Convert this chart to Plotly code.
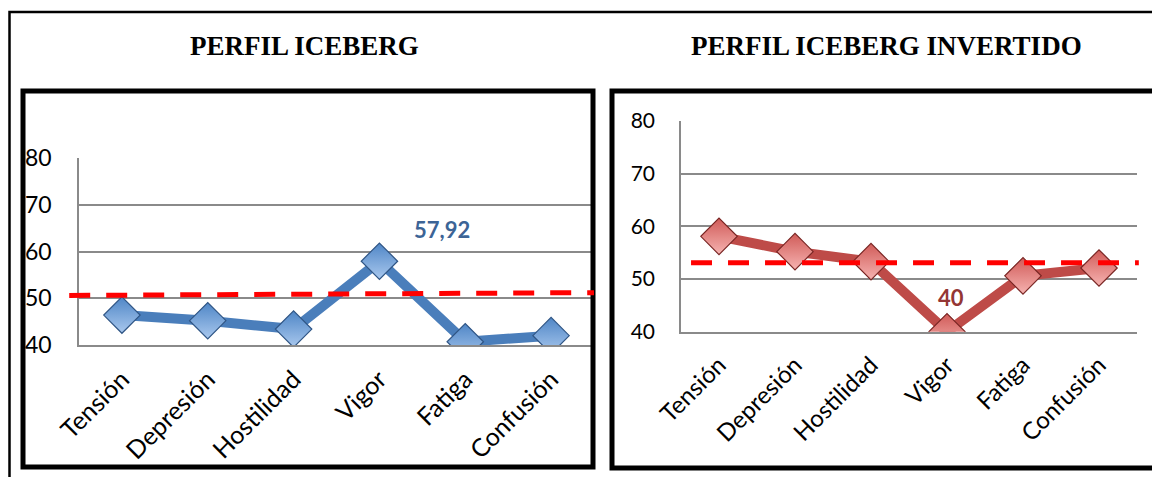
import plotly.graph_objects as go

categorias = ["Tensión", "Depresión", "Hostilidad", "Vigor", "Fatiga", "Confusión"]
iceberg = [46.4, 45.2, 43.4, 57.92, 40.7, 42.0]
invertido = [58.1, 55.2, 53.3, 40.0, 50.6, 52.1]
ref_iceberg = [50.6, 51.2]   # linea de referencia (inicio, fin)
ref_invertido = [53.1, 53.1]
y_ticks = [40, 50, 60, 70, 80]

# la pagina deja 8px de margen en el body, asi que la figura se desplaza
OFF = 8
W, H = 1160 - OFF, 477 - OFF


def px(x):
    return (x - OFF) / W


def py(y):
    return 1 - (y - OFF) / H


fig = go.Figure()

# Perfil iceberg (azul)
fig.add_trace(go.Scatter(
    x=categorias, y=iceberg, mode="lines+markers", xaxis="x", yaxis="y",
    line=dict(color="#4A7EBB", width=10),
    marker=dict(symbol="diamond", size=28, color="#4F86C6",
                gradient=dict(type="vertical", color="#A9C8EE"),
                line=dict(color="#2F5585", width=1.2)),
    showlegend=False, hoverinfo="skip"))

# Perfil iceberg invertido (rojo)
fig.add_trace(go.Scatter(
    x=categorias, y=invertido, mode="lines+markers", xaxis="x2", yaxis="y2",
    line=dict(color="#BE4B48", width=10),
    marker=dict(symbol="diamond", size=28, color="#D05B58",
                gradient=dict(type="vertical", color="#F6B3B1"),
                line=dict(color="#7A2624", width=1.2)),
    showlegend=False, hoverinfo="skip"))

grid_col = "#8A8A8A"
font_fam = "Lato, Calibri, sans-serif"


def x_axis(domain, anchor, size):
    return dict(domain=domain, anchor=anchor, type="category", categoryorder="array",
                categoryarray=categorias, range=[-0.5, 5.5], tickangle=-45,
                showgrid=False, showline=True, linecolor=grid_col, linewidth=1.5,
                ticks="", tickfont=dict(family=font_fam, size=size, color="black"),
                ticklabelstandoff=8, fixedrange=True, automargin=False)


def y_axis(domain, anchor, size, standoff):
    return dict(domain=domain, anchor=anchor, range=[40, 80], tickvals=y_ticks,
                showgrid=True, gridcolor=grid_col, gridwidth=1.5,
                showline=True, linecolor=grid_col, linewidth=1.5,
                ticks="", tickfont=dict(family=font_fam, size=size, color="black"),
                ticklabelstandoff=standoff, zeroline=False,
                fixedrange=True, automargin=False)


shapes = []
# marco exterior
shapes.append(dict(type="rect", xref="paper", yref="paper",
                   x0=px(9.5), x1=1.05, y0=-0.05, y1=py(12),
                   line=dict(color="black", width=2.5)))
# marcos de los graficos
shapes.append(dict(type="rect", xref="paper", yref="paper",
                   x0=px(23), x1=px(593), y0=py(467), y1=py(91),
                   line=dict(color="black", width=5)))
shapes.append(dict(type="rect", xref="paper", yref="paper",
                   x0=px(612), x1=1.05, y0=py(468), y1=py(91),
                   line=dict(color="black", width=5)))
# lineas de referencia discontinuas
shapes.append(dict(type="line", xref="x domain", yref="y",
                   x0=-0.019, x1=1.0, y0=ref_iceberg[0], y1=ref_iceberg[1],
                   line=dict(color="#FF0000", width=5, dash="21px,16px")))
shapes.append(dict(type="line", xref="x2 domain", yref="y2",
                   x0=0.022, x1=1.004, y0=ref_invertido[0], y1=ref_invertido[1],
                   line=dict(color="#FF0000", width=5, dash="21px,16px")))

title_font = dict(family="Liberation Serif, Times New Roman, serif", size=27, color="black")
annotations = [
    dict(text="<b>PERFIL ICEBERG</b>", xref="paper", yref="paper", x=px(304), y=py(46),
         xanchor="center", yanchor="middle", showarrow=False, font=title_font),
    dict(text="<b>PERFIL ICEBERG INVERTIDO</b>", xref="paper", yref="paper", x=px(886), y=py(46),
         xanchor="center", yanchor="middle", showarrow=False, font=title_font),
    dict(text="<b>57,92</b>", xref="x", yref="y", x=categorias[3], y=iceberg[3],
         xshift=63, yshift=32, showarrow=False,
         font=dict(family=font_fam, size=22, color="#3C6496")),
    dict(text="<b>40</b>", xref="x2", yref="y2", x=categorias[3], y=invertido[3],
         xshift=4, yshift=34, showarrow=False,
         font=dict(family=font_fam, size=22, color="#943634")),
]

fig.update_layout(
    width=W, height=H, margin=dict(l=0, r=0, t=0, b=0, autoexpand=False),
    paper_bgcolor="white", plot_bgcolor="white",
    xaxis=x_axis([px(79), px(594)], "y", 25),
    yaxis=y_axis([py(345), py(158)], "x", 23, 21),
    xaxis2=x_axis([px(681), px(1137)], "y2", 24),
    yaxis2=y_axis([py(331.7), py(121)], "x2", 21, 20),
    shapes=shapes, annotations=annotations,
)

fig.write_html("out.html")
